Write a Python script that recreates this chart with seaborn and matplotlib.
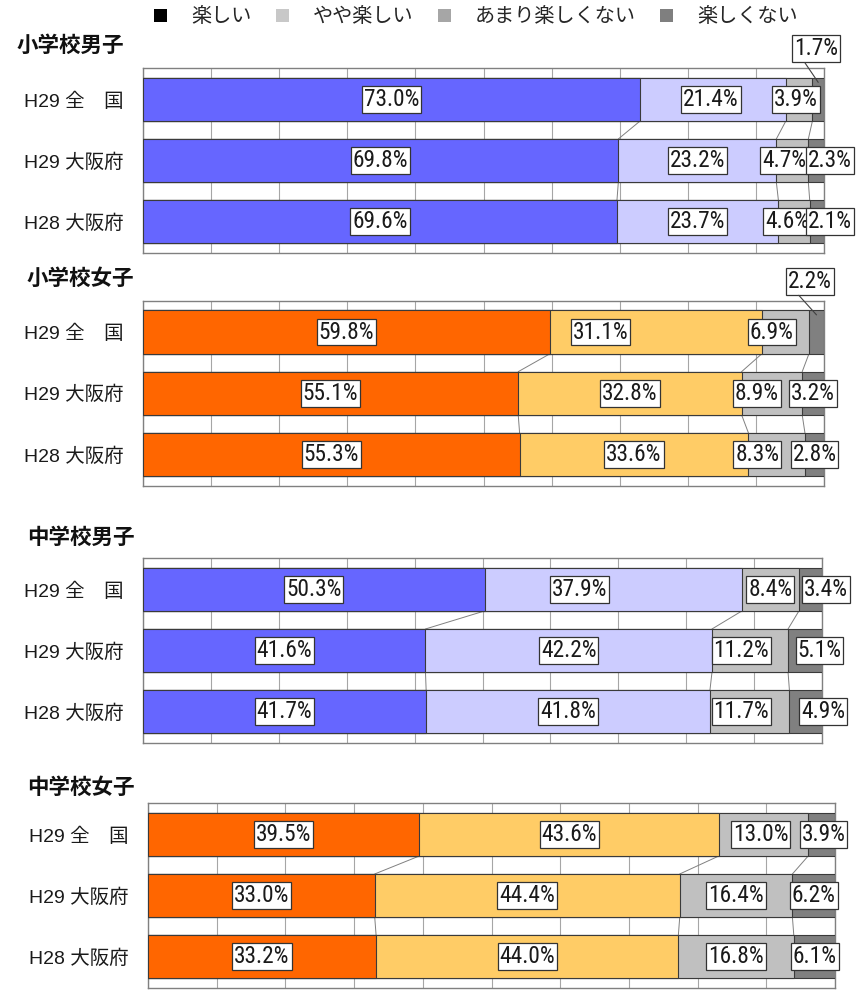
import os
import numpy as np
import pandas as pd
import matplotlib
matplotlib.use("Agg")
import matplotlib.pyplot as plt
import seaborn as sns
from matplotlib import font_manager
from matplotlib.font_manager import FontProperties
from matplotlib.patches import Patch

# ---------------- data ----------------
groups = ['H29 全\u3000国', 'H29 大阪府', 'H28 大阪府']
panel_titles = ['小学校男子', '小学校女子', '中学校男子', '中学校女子']
series_names = ['楽しい', 'やや楽しい', 'あまり楽しくない', '楽しくない']
tanoshii = [[73.0, 69.8, 69.6], [59.8, 55.1, 55.3], [50.3, 41.6, 41.7], [39.5, 33.0, 33.2]]
yaya     = [[21.4, 23.2, 23.7], [31.1, 32.8, 33.6], [37.9, 42.2, 41.8], [43.6, 44.4, 44.0]]
amari    = [[3.9, 4.7, 4.6], [6.9, 8.9, 8.3], [8.4, 11.2, 11.7], [13.0, 16.4, 16.8]]
not_tan  = [[1.7, 2.3, 2.1], [2.2, 3.2, 2.8], [3.4, 5.1, 4.9], [3.9, 6.2, 6.1]]

# ---------------- style ----------------
sns.set_theme(style="white")
LATIN = 'Liberation Sans'
CJK = 'Noto Sans CJK JP'
plt.rcParams['font.family'] = [LATIN, CJK, 'DejaVu Sans']


def find_condensed():
    best = None
    for f in font_manager.fontManager.ttflist:
        base = os.path.basename(f.fname).lower()
        name = f.name.lower()
        if 'mono' in base or 'serif' in base or 'mono' in name or 'serif' in name:
            continue
        if 'dejavu' in name or 'cjk' in name:
            continue
        if f.style != 'normal':
            continue
        if f.weight not in (400, 'normal', 'regular', 'book'):
            continue
        st = str(f.stretch).lower()
        rank = None
        if 'liberation sans narrow' in name:
            rank = 0
        elif 'roboto condensed' in name:
            rank = 1
        elif ('condensed' in base or 'condensed' in name or st == 'condensed') and \
                'extra' not in base and 'semi' not in base and 'ultra' not in base and \
                ('noto sans' in name or 'open sans' in name or 'roboto' in name or 'lato' in name):
            rank = 2
        elif ('semicondensed' in base or st == 'semi-condensed') and \
                ('noto sans' in name or 'open sans' in name or 'roboto' in name):
            rank = 3
        if rank is not None and (best is None or rank < best[0]):
            best = (rank, f.fname)
    return best


cond = find_condensed()
if cond is not None and cond[0] <= 2:
    LBL_FP = FontProperties(fname=cond[1], size=16.8)
    LBL_PAD = 0.08
else:
    LBL_FP = FontProperties(family=LATIN, size=15)
    LBL_PAD = 0.11

boy_colors = ['#6666FF', '#CCCCFF', '#C0C0C0', '#808080']
girl_colors = ['#FF6600', '#FFCC66', '#C0C0C0', '#808080']
legend_colors = ['#000000', '#C8C8C8', '#A6A6A6', '#7F7F7F']

W, H = 858, 990
fig = plt.figure(figsize=(W / 100, H / 100), dpi=100)

# axes boxes in pixels: left, top, right, bottom
boxes = [(143, 68, 824, 253), (143, 300.5, 824, 486), (143, 558, 822, 743), (148, 803, 835, 988)]
title_pos = [(17, 45), (27, 278), (27, 537), (27, 787)]

# label x offsets (in % units) relative to segment centre; None => placed above axes
offsets = [
    [[0, -0.3, -0.45, None], [0, 0, -1.25, 2.0], [0, 0, -1.0, 1.9]],
    [[0, -8.2, -2.0, None], [0, 0, -2.2, 0], [0, 0, -2.85, 0]],
    [[0, -4.9, 0, 2.3], [0, 0, -1.3, 2.1], [0, 0, -1.25, 2.5]],
    [[0, 0, -0.4, 0.25], [0, 0, 0, 0], [0, 0, 0, 0]],
]
above_dx = [-0.35, -1.0, 0, 0]

BAR_W = 0.705
HW = BAR_W / 2

for p in range(4):
    l, t, r, b = boxes[p]
    ax = fig.add_axes([l / W, 1 - b / H, (r - l) / W, (b - t) / H])
    cols = boy_colors if p in (0, 2) else girl_colors
    segs = np.array([tanoshii[p], yaya[p], amari[p], not_tan[p]])  # 4 x 3
    cums = np.cumsum(segs, axis=0)
    df = pd.DataFrame({'group': groups})
    # draw cumulative bars from largest to smallest (stacked look)
    for k in range(3, -1, -1):
        df['v'] = cums[k]
        sns.barplot(data=df, x='v', y='group', orient='h', color=cols[k],
                    saturation=1, width=BAR_W, edgecolor='#3a3a3a', linewidth=0.8,
                    errorbar=None, ax=ax, zorder=3)
    ax.set_xlim(0, 100)
    ax.set_ylim(2.515, -0.515)
    ax.set_xlabel('')
    ax.set_ylabel('')
    ax.set_xticks(np.arange(0, 101, 10))
    ax.set_xticklabels([])
    ax.tick_params(axis='x', length=0)
    ax.grid(axis='x', color='#a6a6a6', lw=0.8, zorder=0)
    ax.grid(axis='y', visible=False)
    ax.set_axisbelow(True)
    ax.set_yticks(range(3))
    ax.set_yticklabels(groups, fontsize=14, family=[LATIN, CJK], color='#1a1a1a')
    ax.tick_params(axis='y', length=0, pad=14)
    ax.set_yticks([0.5, 1.5], minor=True)
    ax.tick_params(axis='y', which='minor', direction='in', length=4, color='#808080', width=0.8)
    for s in ax.spines.values():
        s.set_color('#808080')
        s.set_linewidth(1.0)

    # series lines between bars
    for k in range(3):
        for i in range(2):
            ax.plot([cums[k][i], cums[k][i + 1]], [i + HW, i + 1 - HW],
                    color='#808080', lw=0.7, zorder=2)

    # value labels
    for i in range(3):
        for k in range(4):
            v = segs[k][i]
            centre = cums[k][i] - v / 2
            off = offsets[p][i][k]
            txt = f'{v:.1f}%'
            bb = dict(boxstyle=f'square,pad={LBL_PAD}', fc='white', ec='#333333', lw=0.9)
            if off is None:
                lx = centre + above_dx[p]
                ly = -0.83
                ax.text(lx, ly, txt, ha='center', va='center', fontproperties=LBL_FP,
                        color='#1a1a1a', bbox=bb, zorder=6, clip_on=False)
                ax.plot([lx - 1.6, centre], [-0.6, -0.28], color='#404040', lw=0.8,
                        zorder=6, clip_on=False)
            else:
                ax.text(centre + off, i, txt, ha='center', va='center', fontproperties=LBL_FP,
                        color='#1a1a1a', bbox=bb, zorder=6, clip_on=False)

    tx, ty = title_pos[p]
    fig.text(tx / W, 1 - ty / H, panel_titles[p], fontsize=15.5, fontweight='bold',
             family=[CJK], ha='left', va='center', color='#111111')

handles = [Patch(facecolor=c, edgecolor='none') for c in legend_colors]
fig.legend(handles, series_names, loc='center', bbox_to_anchor=(476 / W, 1 - 17 / H),
           ncol=4, frameon=False, prop={'family': [CJK], 'size': 14.5},
           handlelength=0.65, handleheight=0.65, handletextpad=1.2, columnspacing=1.2,
           borderpad=0)

fig.savefig('out.png', dpi=100)
